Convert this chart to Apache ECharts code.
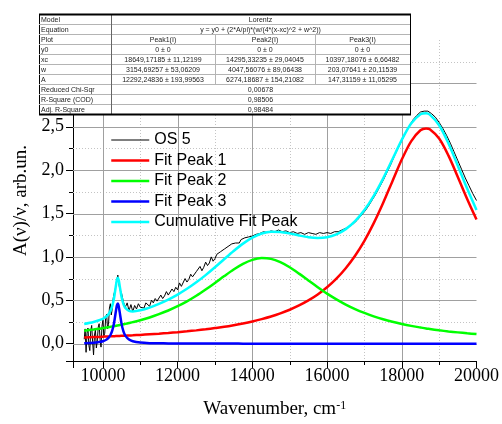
<!DOCTYPE html>
<html>
<head>
<meta charset="utf-8">
<script src="https://cdn.jsdelivr.net/npm/echarts@6/dist/echarts.min.js"></script>
<style>
html, body { margin: 0; padding: 0; background: #fff; }
#main { width: 502px; height: 424px; }
</style>
</head>
<body>
<div id="main"></div>
<script>
// measured spectrum (OS 5)
const osWave = [9500, 9525, 9550, 9575, 9600, 9625, 9650, 9675, 9700, 9725, 9750, 9775, 9800, 9825, 9850, 9875,
  9900, 9925, 9950, 9975, 10000, 10025, 10050, 10075, 10100, 10125, 10150, 10175, 10200, 10225, 10250, 10275,
  10300, 10325, 10350, 10375, 10400, 10425, 10450, 10500, 10550, 10600, 10650, 10700, 10750, 10800, 10850,
  10900, 10950, 11000, 11050, 11100, 11150, 11200, 11250, 11300, 11350, 11400, 11450, 11500, 11550, 11600,
  11650, 11700, 11750, 11800, 11850, 11900, 11950, 12000, 12050, 12100, 12150, 12200, 12250, 12300, 12350,
  12400, 12450, 12500, 12550, 12600, 12650, 12700, 12750, 12800, 12850, 12900, 12950, 13000, 13050, 13100,
  13150, 13200, 13250, 13300, 13350, 13400, 13450, 13500, 13550, 13600, 13650, 13700, 13750, 13800, 13850,
  13900, 13950, 14000, 14100, 14200, 14300, 14400, 14500, 14600, 14700, 14800, 14900, 15000, 15100, 15200,
  15300, 15400, 15500, 15600, 15700, 15800, 15900, 16000, 16100, 16200, 16300, 16400, 16500, 16600, 16700,
  16800, 16900, 17000, 17100, 17200, 17300, 17400, 17500, 17600, 17700, 17800, 17900, 18000, 18100, 18200,
  18300, 18400, 18500, 18600, 18700, 18800, 18900, 19000, 19100, 19200, 19300, 19400, 19500, 19600, 19700,
  19800, 19900, 20000];
const osAbs = [0.05, 0.17, -0.10, 0.12, 0.18, -0.02, -0.08, 0.15, 0.21, 0.02, -0.13, 0.10, 0.16, -0.05, 0.03, 0.19,
  0.23, 0.05, -0.04, 0.20, 0.27, 0.09, 0.12, 0.30, 0.34, 0.17, 0.22, 0.41, 0.46, 0.33, 0.40, 0.52,
  0.58, 0.61, 0.68, 0.74, 0.79, 0.70, 0.63, 0.58, 0.48, 0.42, 0.47, 0.38, 0.45, 0.37, 0.44,
  0.40, 0.46, 0.42, 0.44, 0.41, 0.47, 0.45, 0.43, 0.50, 0.47, 0.52, 0.49, 0.48, 0.56, 0.52,
  0.55, 0.60, 0.56, 0.58, 0.63, 0.60, 0.65, 0.62, 0.70, 0.66, 0.68, 0.75, 0.71, 0.74, 0.80,
  0.77, 0.79, 0.83, 0.82, 0.89, 0.84, 0.88, 0.94, 0.90, 0.93, 1.00, 0.95, 0.98, 1.03, 1.01,
  1.06, 1.04, 1.09, 1.08, 1.12, 1.10, 1.15, 1.13, 1.16, 1.18, 1.16, 1.20, 1.19, 1.22, 1.21,
  1.23, 1.22, 1.24, 1.26, 1.27, 1.29, 1.28, 1.30, 1.29, 1.31, 1.29, 1.30, 1.28, 1.29, 1.27,
  1.28, 1.26, 1.28, 1.27, 1.26, 1.28, 1.27, 1.28, 1.27, 1.29, 1.29, 1.31, 1.33, 1.35, 1.38,
  1.42, 1.47, 1.52, 1.58, 1.65, 1.72, 1.80, 1.88, 1.97, 2.06, 2.16, 2.25, 2.34, 2.43, 2.51,
  2.58, 2.63, 2.67, 2.68, 2.68, 2.65, 2.61, 2.55, 2.48, 2.40, 2.31, 2.21, 2.11, 2.01, 1.91,
  1.82, 1.73, 1.65];

// fitted curves
const fitWave = [9500, 9750, 9900, 10000, 10100, 10150, 10200, 10250, 10300, 10350, 10375, 10400, 10425, 10450,
  10500, 10550, 10600, 10700, 10800, 11000, 11250, 11500, 11750, 12000, 12250, 12500, 12750, 13000, 13250,
  13500, 13750, 14000, 14250, 14500, 14750, 15000, 15250, 15500, 15750, 16000, 16250, 16500, 16750, 17000,
  17250, 17500, 17750, 18000, 18250, 18500, 18650, 18750, 19000, 19250, 19500, 19750, 20000];
const peak1 = [0.072, 0.076, 0.078, 0.080, 0.082, 0.083, 0.084, 0.085, 0.086, 0.087, 0.087, 0.088, 0.088, 0.089,
  0.090, 0.091, 0.092, 0.094, 0.096, 0.101, 0.108, 0.115, 0.123, 0.132, 0.142, 0.153, 0.166, 0.180, 0.195,
  0.213, 0.233, 0.256, 0.283, 0.313, 0.349, 0.391, 0.440, 0.498, 0.567, 0.650, 0.749, 0.869, 1.013, 1.185,
  1.389, 1.621, 1.873, 2.122, 2.332, 2.459, 2.481, 2.471, 2.364, 2.167, 1.922, 1.668, 1.431];
const peak2 = [0.149, 0.163, 0.173, 0.179, 0.186, 0.190, 0.194, 0.198, 0.202, 0.206, 0.208, 0.210, 0.212, 0.214,
  0.219, 0.223, 0.228, 0.238, 0.248, 0.270, 0.302, 0.340, 0.382, 0.432, 0.488, 0.552, 0.624, 0.700, 0.779,
  0.855, 0.920, 0.966, 0.986, 0.977, 0.939, 0.880, 0.807, 0.729, 0.651, 0.577, 0.511, 0.451, 0.399, 0.354,
  0.315, 0.281, 0.252, 0.227, 0.205, 0.186, 0.175, 0.169, 0.154, 0.141, 0.130, 0.119, 0.110];
const peak3 = [0.006, 0.011, 0.019, 0.028, 0.048, 0.067, 0.097, 0.149, 0.241, 0.380, 0.441, 0.462, 0.429, 0.363,
  0.228, 0.141, 0.092, 0.047, 0.028, 0.013, 0.006, 0.004, 0.003, 0.002, 0.001, 0.001, 0.001, 0.001, 0.001,
  0.001, 0.000, 0.000, 0.000, 0.000, 0.000, 0.000, 0.000, 0.000, 0.000, 0.000, 0.000, 0.000, 0.000, 0.000,
  0.000, 0.000, 0.000, 0.000, 0.000, 0.000, 0.000, 0.000, 0.000, 0.000, 0.000, 0.000, 0.000];
const cumulative = [0.227, 0.250, 0.270, 0.287, 0.316, 0.340, 0.375, 0.432, 0.529, 0.673, 0.736, 0.760, 0.729, 0.666,
  0.537, 0.455, 0.412, 0.379, 0.372, 0.384, 0.416, 0.459, 0.508, 0.566, 0.632, 0.707, 0.790, 0.880, 0.975,
  1.068, 1.153, 1.222, 1.269, 1.290, 1.288, 1.271, 1.247, 1.227, 1.218, 1.227, 1.260, 1.320, 1.412, 1.540,
  1.704, 1.902, 2.125, 2.349, 2.537, 2.645, 2.656, 2.640, 2.518, 2.308, 2.051, 1.788, 1.541];

const seriesNames = ['OS 5', 'Fit Peak 1', 'Fit Peak 2', 'Fit Peak 3', 'Cumulative Fit Peak'];
const seriesColors = ['#000000', '#ff0000', '#00ff00', '#0000ff', '#00ffff'];

// grid positions (major solid, minor dotted)
const xMajor = [10000, 12000, 14000, 16000, 18000];
const xMinor = [11000, 13000, 15000, 17000, 19000];
const yMajor = [0, 0.5, 1.0, 1.5, 2.0, 2.5, 3.0];
const yMinor = [0.25, 0.75, 1.25, 1.75, 2.25, 2.75, 3.25];
const xRange = [9200, 20000];
const yRange = [-0.2, 3.5];

// fit report table
const tableRows = [
  ['Model', 'Lorentz'],
  ['Equation', 'y = y0 + (2*A/pi)*(w/(4*(x-xc)^2 + w^2))'],
  ['Plot', 'Peak1(I)', 'Peak2(I)', 'Peak3(I)'],
  ['y0', '0 ± 0', '0 ± 0', '0 ± 0'],
  ['xc', '18649,17185 ± 11,12199', '14295,33235 ± 29,04045', '10397,18076 ± 6,66482'],
  ['w', '3154,69257 ± 53,06209', '4047,56076 ± 89,06438', '203,07641 ± 20,11539'],
  ['A', '12292,24836 ± 193,99563', '6274,18687 ± 154,21082', '147,31159 ± 11,05295'],
  ['Reduced Chi-Sqr', '0,00678'],
  ['R-Square (COD)', '0,98506'],
  ['Adj. R-Square', '0,98484']
];

const serif = '"Liberation Serif", "Times New Roman", serif';
const sans = '"Liberation Sans", Arial, sans-serif';

function buildTable() {
  const cols = [39, 111, 215, 315, 410];
  const top = 14, rh = 10;
  const bottom = top + rh * tableRows.length;
  const els = [];
  els.push({ type: 'rect', z: 100, shape: { x: cols[0] + 0.5, y: top + 0.5, width: cols[4] - cols[0], height: bottom - top },
    style: { fill: '#fff', stroke: '#000', lineWidth: 1 } });
  for (let i = 1; i < tableRows.length; i++) {
    const y = top + i * rh + 0.5;
    els.push({ type: 'line', z: 101, shape: { x1: cols[0], y1: y, x2: cols[4], y2: y }, style: { stroke: '#b4b4b4', lineWidth: 1 } });
  }
  els.push({ type: 'line', z: 101, shape: { x1: cols[1] + 0.5, y1: top, x2: cols[1] + 0.5, y2: bottom }, style: { stroke: '#666', lineWidth: 1 } });
  [cols[2], cols[3]].forEach(function (cx) {
    els.push({ type: 'line', z: 101, shape: { x1: cx + 0.5, y1: top + 2 * rh, x2: cx + 0.5, y2: top + 7 * rh }, style: { stroke: '#b4b4b4', lineWidth: 1 } });
  });
  els.push({ type: 'line', z: 102, shape: { x1: cols[0], y1: top + 0.5, x2: cols[4] + 1, y2: top + 0.5 }, style: { stroke: '#000', lineWidth: 2 } });
  els.push({ type: 'line', z: 102, shape: { x1: cols[0], y1: bottom + 0.5, x2: cols[4] + 1, y2: bottom + 0.5 }, style: { stroke: '#000', lineWidth: 2 } });
  tableRows.forEach(function (row, i) {
    const cy = top + i * rh + rh / 2 + 1;
    els.push({ type: 'text', z: 103, x: cols[0] + 2, y: cy,
      style: { text: row[0], fill: '#222', fontSize: 7, fontFamily: sans, align: 'left', verticalAlign: 'middle' } });
    if (row.length === 2) {
      els.push({ type: 'text', z: 103, x: (cols[1] + cols[4]) / 2, y: cy,
        style: { text: row[1], fill: '#222', fontSize: 7, fontFamily: sans, align: 'center', verticalAlign: 'middle' } });
    } else {
      for (let j = 1; j < row.length; j++) {
        els.push({ type: 'text', z: 103, x: (cols[j] + cols[j + 1]) / 2, y: cy,
          style: { text: row[j], fill: '#222', fontSize: 7, fontFamily: sans, align: 'center', verticalAlign: 'middle' } });
      }
    }
  });
  return els;
}

const chart = echarts.init(document.getElementById('main'));

const series = [{
  name: seriesNames[0], type: 'line', symbol: 'none', smooth: false,
  data: osWave.map(function (x, i) { return [x, osAbs[i]]; }),
  lineStyle: { color: seriesColors[0], width: 1 }, itemStyle: { color: seriesColors[0] }
}];
[peak1, peak2, peak3, cumulative].forEach(function (set, k) {
  series.push({
    name: seriesNames[k + 1], type: 'line', symbol: 'none', smooth: 0.3,
    data: fitWave.map(function (x, i) { return [x, set[i]]; }),
    lineStyle: { color: seriesColors[k + 1], width: 2.5 }, itemStyle: { color: seriesColors[k + 1] }
  });
});

chart.setOption({
  animation: false,
  grid: { left: 73, right: 24, top: 40, bottom: 62 },
  legend: {
    orient: 'vertical', left: 105, top: 127,
    itemWidth: 38, itemHeight: 14, itemGap: 4.5,
    itemStyle: { opacity: 0 },
    lineStyle: { width: 'inherit' },
    textStyle: { fontFamily: sans, fontSize: 16, lineHeight: 16, color: '#000' },
    data: seriesNames
  },
  xAxis: {
    type: 'value', min: xRange[0], max: xRange[1], minInterval: 2000, maxInterval: 2000,
    name: 'Wavenumber, cm{sup|-1}', nameLocation: 'middle', nameGap: 39,
    nameTextStyle: { fontFamily: serif, fontSize: 19, color: '#000', lineHeight: 19,
      rich: { sup: { fontFamily: serif, fontSize: 12, verticalAlign: 'top', color: '#000' } } },
    axisLine: { onZero: false, lineStyle: { color: '#000', width: 1 } },
    axisTick: { length: 7, lineStyle: { color: '#000' } },
    axisLabel: { fontFamily: serif, fontSize: 18, color: '#000', margin: 6,
      formatter: function (v) { return v % 2000 === 0 ? String(v) : ''; } },
    splitLine: { show: false }
  },
  yAxis: {
    type: 'value', min: yRange[0], max: yRange[1], minInterval: 0.5, maxInterval: 0.5,
    name: 'A(ν)/ν, arb.un.', nameLocation: 'middle', nameGap: 40,
    nameTextStyle: { fontFamily: serif, fontSize: 19, color: '#000' },
    axisLine: { onZero: false, lineStyle: { color: '#000', width: 1 } },
    axisTick: { length: 7, lineStyle: { color: '#000' } },
    axisLabel: { fontFamily: serif, fontSize: 18, color: '#000', margin: 9,
      formatter: function (v) {
        const h = Math.round(v * 2);
        if (Math.abs(v * 2 - h) > 1e-6 || v < 0 || v > 2.5) return '';
        return v.toFixed(1).replace('.', ',');
      } },
    splitLine: { show: false }
  },
  series: series
});

// grid lines and minor ticks, placed through the chart's own axis scales
function px(x, y) { return chart.convertToPixel({ gridIndex: 0 }, [x, y]); }
function gridElements(z) {
  const lo = px(xRange[0], yRange[0]);
  const hi = px(xRange[1], yRange[1]);
  const els = [];
  let n = 0;
  function add(shape, color, dash, zz) {
    els.push({ type: 'line', id: 'g' + (n++), z: zz, silent: true, shape: shape,
      style: { stroke: color, lineWidth: 1, lineDash: dash } });
  }
  xMinor.forEach(function (v) {
    const x = Math.round(px(v, 0)[0]) + 0.5;
    add({ x1: x, y1: hi[1], x2: x, y2: lo[1] }, '#c4c4c4', [1, 2], z);
    add({ x1: x, y1: lo[1], x2: x, y2: lo[1] + 4 }, '#000', null, 5);
  });
  yMinor.forEach(function (v) {
    const y = Math.round(px(9200, v)[1]) + 0.5;
    add({ x1: lo[0], y1: y, x2: hi[0], y2: y }, '#c4c4c4', [1, 2], z);
    add({ x1: lo[0] - 4, y1: y, x2: lo[0], y2: y }, '#000', null, 5);
  });
  xMajor.forEach(function (v) {
    const x = Math.round(px(v, 0)[0]) + 0.5;
    add({ x1: x, y1: hi[1], x2: x, y2: lo[1] }, '#a0a0a0', null, z);
  });
  yMajor.forEach(function (v) {
    const y = Math.round(px(9200, v)[1]) + 0.5;
    add({ x1: lo[0], y1: y, x2: hi[0], y2: y }, '#a0a0a0', null, z);
  });
  return els;
}

function applyGrid(z) {
  chart.setOption({ graphic: { elements: gridElements(z).concat(buildTable()) } });
  chart.getZr().flush();
}

function gridVisible() {
  const cv = chart.getDom().getElementsByTagName('canvas')[0];
  if (!cv) return true;
  const x = Math.round(px(16000, 0)[0]);
  const y = Math.round(px(16000, 2.1)[1]);
  const d = cv.getContext('2d').getImageData(x, y, 1, 1).data;
  return d[3] > 0 && d[0] < 235;
}

applyGrid(1);
if (!gridVisible()) applyGrid(3);
</script>
</body>
</html>
